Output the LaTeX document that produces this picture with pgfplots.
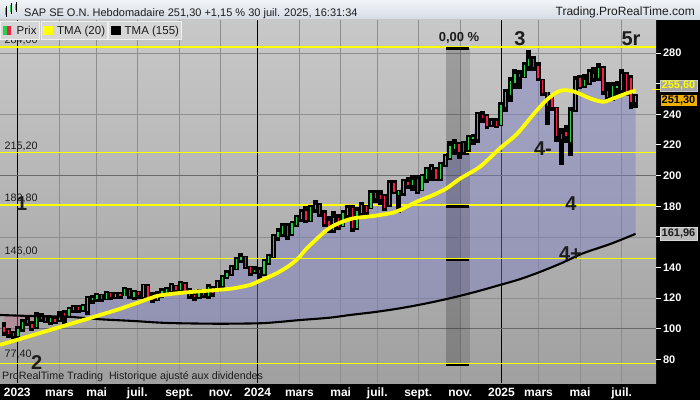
\documentclass[border=0pt]{standalone}
\usepackage{fontspec}
\setmainfont{Liberation Sans}
\usepackage{pgfplots}
\pgfplotsset{compat=1.18}
\usepackage{pgfplotstable}

\definecolor{bgtop}{HTML}{C8C8C8}
\definecolor{bgbot}{HTML}{A0A0A0}
\definecolor{gridc}{HTML}{8E8E8E}
\definecolor{gridd}{HTML}{6A6A6A}
\definecolor{lav}{HTML}{7C7CC4}
\definecolor{pinkf}{HTML}{C06A8A}
\definecolor{upc}{HTML}{22D345}
\definecolor{downc}{HTML}{F0204A}
\definecolor{lvl}{HTML}{FFFF00}
\definecolor{titletop}{HTML}{F2F5F8}
\definecolor{titlebot}{HTML}{D3DBE3}
\definecolor{legbg}{HTML}{D6D6D6}
\definecolor{legbd}{HTML}{F0F0F0}
\definecolor{txt}{HTML}{1C1C1C}
\definecolor{gold}{HTML}{F0B000}

% weekly candles: week index (0 = first week of 2023), open, high, low, close
\pgfplotstableread{
w o h l c
-3 100.5 103.5 96 98.5
-2 98.5 100 95 97
-1 97 98 94 95.5
0 95.5 101 94.5 99.5
1 100 105.5 99 104
2 105.5 107 102.5 104
3 103 104.5 99.5 101
4 101.5 110 100.5 107.5
5 108.5 109.5 105.5 107
6 107 108 104.5 105.5
7 105 107.5 103 106.5
8 106 107.5 104 105
9 106 111 105.5 107.5
10 110 111.5 103.5 108
11 108.5 113.5 108 112.5
12 112.5 114.5 111 113.5
13 113.5 115 111 112.5
14 112.5 115.5 111.5 114.5
15 112 120.5 110 119.5
16 119.5 121.5 117 120
17 120 122.5 118.5 121.5
18 121.5 122 118.5 120
19 120 124 119.5 123
20 123 123.5 119.5 121
21 121 123.5 120 122.5
22 122.5 123.5 120.5 122
23 122 126.5 122 125.5
24 125 125.5 120.5 122
25 121 124.5 119.5 123.5
26 123.5 124 120.5 122.5
27 121 128.5 120 128
28 127.5 128.5 120 121
29 121 123 117.5 119.5
30 119.5 124 119 122.5
31 122.5 125.5 121 124
32 124 126.5 122.5 125.5
33 125 129 124 128
34 127.5 127.5 124.5 125.5
35 125.5 130.5 125 129.5
36 129 129.5 123.5 124.5
37 124.5 126 120.5 121.5
38 121.5 124.5 119 121
39 121 125 120.5 123
40 123 125 121 122.5
41 121.5 128.5 120.5 127
42 126.5 127 121.5 123.5
43 124.5 131 124.5 130
44 128.5 134.5 127.5 133.5
45 134 137.5 133 136
46 136 141 135 140
47 139.5 146 139 145
48 145 148.5 143.5 146.5
49 146.5 147 140 141
50 140 140.5 135 137
51 137.5 140 136.5 138
52 138 139.5 133.5 136.5
53 136 145 135 144
54 143.5 148 142.5 147
55 147.5 161 147 160
56 160 165 158 162.5
57 162.5 168 161 167
58 166.5 168 159 161
59 162 169.5 161.5 168.5
60 168 173.5 167.5 172.5
61 172 177.5 170.5 176
62 176.5 179.5 170 171.5
63 171 180 170.5 179
64 178.5 183.5 176.5 180.5
65 180.5 181 174 175.5
66 175.5 176.5 167.5 169
67 170 173 163.5 165
68 165 176 163.5 172
69 172 174 165.5 167
70 167.5 176.5 167 175
71 174.5 180 172 178.5
72 178.5 180 164 166
73 166.5 178.5 165.5 176.5
74 176 182 173.5 180.5
75 180 180 174.5 176.5
76 179.5 189.5 179 188.5
77 188.5 189.5 183 186
78 187 189.5 181.5 185
79 186 187.5 177.5 179
80 181 196 180.5 194.5
81 195 196 188.5 190
82 188 190 176.5 189.5
83 189 197 187.5 196
84 195.5 198 192 194.5
85 194 199.5 190.5 197
86 197.5 199.5 188.5 190
87 191 200.5 190.5 199.5
88 198 205 196 204
89 204 207 197 205
90 204 204.5 197 198.5
91 198.5 208 197 207
92 207 213.5 206.5 212.5
93 212 222 211 219
94 218 223 214.5 220
95 220 221 211.5 215.5
96 221 222 214.5 216
97 217 225.5 216 224.5
98 224 226.5 221 225
99 224 241 222 240
100 239 241.5 235 238
101 238.5 239.5 231 233
102 233.5 236.5 232.5 235
103 235 236.5 232 233
104 233.5 247.5 233 246
105 245 256 242 254
106 253 263.5 249 261.5
107 261 268.5 257 266
108 266 268 257.5 265
109 265 273.5 264.5 272
110 272 281 269 276
111 276 277.5 269 271
112 271 273.5 262.5 264
113 262 262.5 252.5 254
114 254 254 233.5 246
115 251 252.5 243 245
116 244 244 223 226
117 227 230 208 224
118 228 232 222 226
119 222 244 213.5 242
120 243 264 242.5 262
121 263.5 265 257 258.5
122 259 265.5 258 262
123 261 268.5 260 267.5
124 266 270 262 264
125 264 272.5 262.5 270
126 270 271 253.5 255.5
127 255 260 250 252
128 251 260 249.5 258
129 257.5 261 252.5 258
130 256 269 253.5 266
131 266 267 253 255
132 263 265 244 248.5
133 248.5 252.5 245 251.3
}\candles

% bodies of rising weeks (open, close)
\pgfplotstableread{
w o c
0 95.5 99.5
1 100 104
4 101.5 107.5
7 105 106.5
9 106 107.5
11 108.5 112.5
12 112.5 113.5
14 112.5 114.5
15 112 119.5
16 119.5 120
17 120 121.5
19 120 123
21 121 122.5
23 122 125.5
25 121 123.5
27 121 128
30 119.5 122.5
31 122.5 124
32 124 125.5
33 125 128
35 125.5 129.5
39 121 123
41 121.5 127
43 124.5 130
44 128.5 133.5
45 134 136
46 136 140
47 139.5 145
48 145 146.5
51 137.5 138
53 136 144
54 143.5 147
55 147.5 160
56 160 162.5
57 162.5 167
59 162 168.5
60 168 172.5
61 172 176
63 171 179
64 178.5 180.5
68 165 172
70 167.5 175
71 174.5 178.5
73 166.5 176.5
74 176 180.5
76 179.5 188.5
80 181 194.5
82 188 189.5
83 189 196
85 194 197
87 191 199.5
88 198 204
89 204 205
91 198.5 207
92 207 212.5
93 212 219
94 218 220
97 217 224.5
98 224 225
99 224 240
102 233.5 235
104 233.5 246
105 245 254
106 253 261.5
107 261 266
109 265 272
110 272 276
119 222 242
120 243 262
122 259 262
123 261 267.5
125 264 270
128 251 258
129 257.5 258
130 256 266
133 248.5 251.3
}\upw

% bodies of falling weeks (open, close)
\pgfplotstableread{
w o c
-3 100.5 98.5
-2 98.5 97
-1 97 95.5
2 105.5 104
3 103 101
5 108.5 107
6 107 105.5
8 106 105
10 110 108
13 113.5 112.5
18 121.5 120
20 123 121
22 122.5 122
24 125 122
26 123.5 122.5
28 127.5 121
29 121 119.5
34 127.5 125.5
36 129 124.5
37 124.5 121.5
38 121.5 121
40 123 122.5
42 126.5 123.5
49 146.5 141
50 140 137
52 138 136.5
58 166.5 161
62 176.5 171.5
65 180.5 175.5
66 175.5 169
67 170 165
69 172 167
72 178.5 166
75 180 176.5
77 188.5 186
78 187 185
79 186 179
81 195 190
84 195.5 194.5
86 197.5 190
90 204 198.5
95 220 215.5
96 221 216
100 239 238
101 238.5 233
103 235 233
108 266 265
111 276 271
112 271 264
113 262 254
114 254 246
115 251 245
116 244 226
117 227 224
118 228 226
121 263.5 258.5
124 266 264
126 270 255.5
127 255 252
131 266 255
132 263 248.5
}\dnw

% area above TMA (155): closes forward, TMA (155) back
\pgfplotstableread{
w v
10.6 107.9
11 112.5
12 113.5
13 112.5
14 114.5
15 119.5
16 120
17 121.5
18 120
19 123
20 121
21 122.5
22 122
23 125.5
24 122
25 123.5
26 122.5
27 128
28 121
29 119.5
30 122.5
31 124
32 125.5
33 128
34 125.5
35 129.5
36 124.5
37 121.5
38 121
39 123
40 122.5
41 127
42 123.5
43 130
44 133.5
45 136
46 140
47 145
48 146.5
49 141
50 137
51 138
52 136.5
53 144
54 147
55 160
56 162.5
57 167
58 161
59 168.5
60 172.5
61 176
62 171.5
63 179
64 180.5
65 175.5
66 169
67 165
68 172
69 167
70 175
71 178.5
72 166
73 176.5
74 180.5
75 176.5
76 188.5
77 186
78 185
79 179
80 194.5
81 190
82 189.5
83 196
84 194.5
85 197
86 190
87 199.5
88 204
89 205
90 198.5
91 207
92 212.5
93 219
94 220
95 215.5
96 216
97 224.5
98 225
99 240
100 238
101 233
102 235
103 233
104 246
105 254
106 261.5
107 266
108 265
109 272
110 276
111 271
112 264
113 254
114 246
115 245
116 226
117 224
118 226
119 242
120 262
121 258.5
122 262
123 267.5
124 264
125 270
126 255.5
127 252
128 258
129 258
130 266
131 255
132 248.5
133 251.3
133 161.96
127.5 155.3
121.7 149.3
117 142.8
112.4 137.1
108 132.3
103.8 128.6
98.4 124.0
93.0 119.9
87.5 116.3
82.3 113.4
77 111.0
71.5 109.0
67 107.2
60.7 105.7
56 104.4
52.1 103.6
43.5 103.3
34.9 103.6
30.6 104.0
24.8 105.1
17.7 106.2
10.6 107.9
}\areaUp

% area below TMA (155) at the start
\pgfplotstableread{
w v
-3 98.5
-2 97
-1 95.5
0 99.5
1 104
2 104
3 101
4 107.5
5 107
6 105.5
7 106.5
8 105
9 107.5
10 108
10.6 107.9
3.3 108.3
0 108.6
-3 108.7
}\areaDn

% TMA (20)
\pgfplotstableread{
w v
-3.87 89.5
-0.27 92.7
6.9 99.2
14.07 105.7
17.67 109
21.26 112.3
24.84 116
28.43 119.9
30.59 121.8
35.6 123.6
42.8 125.3
46.37 126.4
49.97 128.6
52.1 131.4
55.7 136.2
58.6 141.6
60.7 147.1
62.2 152.5
66.5 164.5
69.3 169.2
72.2 172.1
76.5 173.6
80.8 175.8
82.3 177.5
85.9 183
89.4 187.3
92.3 191.7
95.2 198
99.5 205.8
103.8 217.8
107.4 227
111.0 240
113.9 249.5
116.7 255.3
119.6 255
123.2 250.4
126.0 248.2
128.2 250.4
131.1 253.7
133 255.6
}\tmaS

% TMA (155)
\pgfplotstableread{
w v
-3.87 109.0
0 108.6
3.3 108.3
10.5 107.9
17.7 106.2
24.8 105.1
30.6 104.0
34.9 103.6
43.5 103.3
52.1 103.6
56 104.4
60.7 105.7
67 107.2
71.5 109.0
77 111.0
82.3 113.4
87.5 116.3
93.0 119.9
98.4 124.0
103.8 128.6
108 132.3
112.4 137.1
117 142.8
121.7 149.3
127.5 155.3
133 161.96
}\tmaL

\begin{document}
\begin{tikzpicture}
\path[use as bounding box] (0pt,0pt) rectangle (700pt,400pt);
\fill[black] (0pt,0pt) rectangle (700pt,17pt);
\fill[black] (656pt,0pt) rectangle (700pt,380pt);
\shade[top color=titletop, bottom color=titlebot] (0pt,380pt) rectangle (700pt,400pt);

\begin{axis}[
    at={(0pt,17pt)}, anchor=south west,
    width=656pt, height=363pt, scale only axis,
    xmin=-3.865, xmax=137.39, ymin=64.61, ymax=301.56,
    axis line style={draw=none},
    axis background/.style={top color=bgtop, bottom color=bgbot},
    xtick={8.94,16.96,25.7,34.74,43.66,60.6,69.5,77.38,86.2,95.25,112.09,121.03,130.0},
    xticklabels={mars,mai,juil.,sept.,nov.,mars,mai,juil.,sept.,nov.,mars,mai,juil.},
    extra x ticks={-0.14,51.6,104.12},
    extra x tick labels={2023,2024,2025},
    extra x tick style={xmajorgrids=true, major grid style={black, line width=0.9pt}},
    xmajorgrids,
    major grid style={gridc, line width=0.7pt},
    xtick style={draw=none},
    xticklabel style={font=\bfseries\fontsize{12}{12}\selectfont, text=white, anchor=base, yshift=-13pt},
    ytick={80,100,...,280},
    yticklabels={80,100,120,140,,180,200,220,240,,280},
    ytick pos=right, yticklabel pos=right,
    major tick length=5pt,
    ytick style={white, line width=1pt, xshift=5pt},
    yticklabel style={font=\bfseries\fontsize{11}{12}\selectfont, text=white, anchor=west, xshift=3.5pt},
    minor ytick={120,160,240,280}, yminorgrids,
    minor grid style={gridc, line width=0.7pt}, minor tick length=0pt,
    extra y ticks={100,200}, extra y tick labels={},
    extra y tick style={ymajorgrids=true, major grid style={gridd, line width=0.8pt}},
]
% area between price and TMA (155)
\addplot[fill=lav, fill opacity=0.45, draw=none, forget plot] table[x=w, y=v] {\areaUp};
\addplot[fill=pinkf, fill opacity=0.38, draw=none, forget plot] table[x=w, y=v] {\areaDn};

% measuring band
\fill[black, opacity=0.14] (axis cs:92.17,76.5) rectangle (axis cs:97.34,284);
\fill[black, opacity=0.07] (axis cs:92.17,76.5) rectangle (axis cs:95.4,284);

% levels
\addplot[lvl, line width=1.4pt, forget plot] coordinates {(-3.865,284) (137.39,284)};
\addplot[lvl, line width=1.4pt, forget plot] coordinates {(-3.865,215.2) (137.39,215.2)};
\addplot[lvl, line width=1.4pt, forget plot] coordinates {(-3.865,180.8) (137.39,180.8)};
\addplot[lvl, line width=1.4pt, forget plot] coordinates {(-3.865,146) (137.39,146)};
\addplot[lvl, line width=1.4pt, forget plot] coordinates {(-3.865,77.4) (137.39,77.4)};
\draw[black, line width=2.6pt, yshift=-1.6pt] (axis cs:92.17,284) -- (axis cs:97.2,284);
\draw[black, line width=2.6pt, yshift=-1.6pt] (axis cs:92.17,215.2) -- (axis cs:97.2,215.2);
\draw[black, line width=2.6pt, yshift=-1.6pt] (axis cs:92.17,180.8) -- (axis cs:97.2,180.8);
\draw[black, line width=2.6pt, yshift=-1.6pt] (axis cs:92.17,146) -- (axis cs:97.2,146);
\draw[black, line width=2.6pt, yshift=-1.6pt] (axis cs:92.17,77.4) -- (axis cs:97.2,77.4);

% candles: black high-low bar, coloured body
\addplot[draw=none, mark=none, forget plot,
    error bars/.cd, y dir=plus, y explicit,
    error bar style={draw=black, line width=4.9pt}, error mark=none]
    table[x=w, y expr={\thisrow{l}-0.8}, y error expr={\thisrow{h}-\thisrow{l}+1.6}] {\candles};
\addplot[draw=none, mark=none, forget plot,
    error bars/.cd, y dir=plus, y explicit,
    error bar style={draw=upc, line width=1.3pt}, error mark=none]
    table[x=w, y expr={\thisrow{o}-0.4}, y error expr={\thisrow{c}-\thisrow{o}+0.8}] {\upw};
\addplot[draw=none, mark=none, forget plot,
    error bars/.cd, y dir=plus, y explicit,
    error bar style={draw=downc, line width=1.3pt}, error mark=none]
    table[x=w, y expr={\thisrow{c}-0.4}, y error expr={\thisrow{o}-\thisrow{c}+0.8}] {\dnw};

% moving averages
\addplot[black, line width=2.1pt, smooth, forget plot] table[x=w, y=v] {\tmaL};
\addplot[lvl, line width=3.8pt, smooth, forget plot] table[x=w, y=v] {\tmaS};
\end{axis}

% title bar
\fill[upc] (5pt,385pt) rectangle (7pt,392pt);
\draw[black, line width=0.6pt] (6pt,383pt) -- (6pt,394pt);
\fill[upc] (10pt,388pt) rectangle (12pt,395pt);
\draw[black, line width=0.6pt] (11pt,386pt) -- (11pt,397pt);
\fill[upc] (15pt,390pt) rectangle (17pt,396pt);
\draw[black, line width=0.6pt] (16pt,388pt) -- (16pt,398pt);
\node[anchor=base west, inner sep=0pt, text=txt, font=\fontsize{11}{13}\selectfont] at (24pt,383.5pt)
  {SAP SE O.N. Hebdomadaire 251,30 +1,15 \% 30 juil. 2025, 16:31:34};
\node[anchor=base east, inner sep=0pt, text=txt, font=\fontsize{12}{13}\selectfont] at (695pt,384pt)
  {Trading.ProRealTime.com};

% level labels
\begin{scope}[every node/.style={anchor=base west, inner sep=0pt, text=txt, font=\fontsize{10.8}{12}\selectfont}]
\node at (4.5pt,356.5pt) {284,00};
\node at (4.5pt,251pt) {215,20};
\node at (4.5pt,199pt) {180,80};
\node at (4.5pt,146pt) {146,00};
\node at (4.5pt,42.7pt) {77,40};
\end{scope}

% legend
\begin{scope}[font=\fontsize{11.5}{13}\selectfont]
\filldraw[fill=legbg, draw=legbd] (0.5pt,360.7pt) rectangle (39.5pt,378.3pt);
\filldraw[fill=legbg, draw=legbd] (40.7pt,360.7pt) rectangle (106.7pt,378.3pt);
\filldraw[fill=legbg, draw=legbd] (108pt,360.7pt) rectangle (181pt,378.3pt);
\fill[upc] (3pt,365pt) rectangle (7pt,374pt);
\fill[downc] (7pt,365pt) rectangle (11pt,374pt);
\fill[lvl] (43.3pt,365pt) rectangle (53.3pt,374pt);
\fill[black] (111.3pt,365pt) rectangle (120.7pt,374pt);
\node[anchor=base west, inner sep=0pt, text=txt] at (16.5pt,365.3pt) {Prix};
\node[anchor=base west, inner sep=0pt, text=txt] at (57pt,365.3pt) {TMA (20)};
\node[anchor=base west, inner sep=0pt, text=txt] at (124.5pt,365.3pt) {TMA (155)};
\end{scope}

% wave annotations
\begin{scope}[every node/.style={inner sep=0pt, text=txt, font=\bfseries\fontsize{20}{20}\selectfont}]
\node at (21.7pt,196.7pt) {1};
\node at (36.7pt,37.5pt) {2};
\node at (520pt,361pt) {3};
\node at (543pt,251pt) {4-};
\node at (571pt,196pt) {4};
\node at (570.5pt,146pt) {4+};
\node at (631pt,361pt) {5r};
\end{scope}
\node[inner sep=0pt, text=txt, font=\bfseries\fontsize{13}{14}\selectfont] at (459pt,362pt) {0,00 \%};

% bottom note
\node[anchor=base west, inner sep=0pt, text=txt, font=\fontsize{10.7}{12}\selectfont] at (2pt,21pt)
  {ProRealTime Trading\ \ Historique ajusté aux dividendes};

% price boxes on the scale
\draw[lvl, line width=1.2pt] (652pt,310.5pt) -- (660pt,310.5pt);
\node[fill=gray!70, draw=gray!40, text=lvl, inner sep=0pt, minimum width=37pt, minimum height=11.5pt,
  font=\bfseries\fontsize{11}{12}\selectfont] at (678.5pt,314.5pt) {255,60};
\node[fill=gold, draw=black, text=black, inner sep=0pt, minimum width=37pt, minimum height=12.5pt,
  font=\bfseries\fontsize{11}{12}\selectfont] at (678.5pt,299.8pt) {251,30};
\node[fill=gray!55, draw=gray!30, text=txt, inner sep=0pt, minimum width=37pt, minimum height=13pt,
  font=\bfseries\fontsize{11}{12}\selectfont] at (678.5pt,166.7pt) {161,96};
\end{tikzpicture}
\end{document}
